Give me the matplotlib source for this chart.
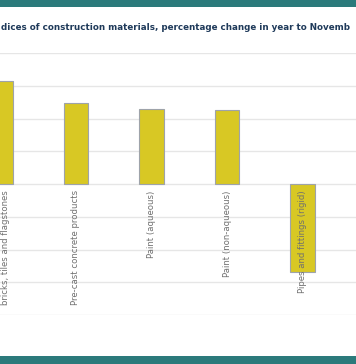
import matplotlib
matplotlib.use("Agg")
import matplotlib.pyplot as plt
from matplotlib.patches import Rectangle

title = "dices of construction materials, percentage change in year to Novemb"
categories = ["bricks, tiles and flagstones", "Pre-cast concrete products",
              "Paint (aqueous)", "Paint (non-aqueous)", "Pipes and fittings (rigid)"]
values = [15.8, 12.3, 11.5, 11.3, -13.4]
yticks = [-20, -15, -10, -5, 0, 5, 10, 15, 20]

W, H = 356, 364
fig = plt.figure(figsize=(W / 100, H / 100), dpi=100)
fig.patch.set_facecolor("white")

# teal bands
fig.patches.append(Rectangle((0, 1 - 7 / H), 1, 7 / H, transform=fig.transFigure,
                             facecolor="#2b7a7b", edgecolor="none", zorder=0))
fig.patches.append(Rectangle((0, 0), 1, 8 / H, transform=fig.transFigure,
                             facecolor="#2b7a7b", edgecolor="none", zorder=0))

top_px, bot_px = 53, 315
ax = fig.add_axes([0, 1 - bot_px / H, 1, (bot_px - top_px) / H])
ax.set_facecolor("none")
x = list(range(len(categories)))
ax.bar(x, values, width=0.318, color="#d8c824", edgecolor="#9ea3aa", linewidth=0.8, zorder=2)
ax.set_ylim(-20, 20)
ax.set_xlim(-0.5 / 75.5, (W - 0.5) / 75.5)
ax.set_yticks(yticks)
ax.grid(axis="y", color="#e6e6e6", linewidth=1, zorder=0)
ax.tick_params(left=False, bottom=False, labelleft=False, labelbottom=False)
for s in ax.spines.values():
    s.set_visible(False)

for i, lab in enumerate(categories):
    dx = 5 if i == 0 else 0
    ax.annotate(lab, (i, 0), xytext=(dx * 0.72, -4.5), textcoords="offset points",
                rotation=90, ha="center", va="top", fontsize=6.1, color="#707070",
                family="DejaVu Sans", zorder=3)

fig.text(1 / W, 1 - 27 / H, title, ha="left", va="center", fontsize=6.3,
         fontweight="bold", color="#1f3a5a", family="DejaVu Sans")

fig.savefig("out.png", dpi=100)
